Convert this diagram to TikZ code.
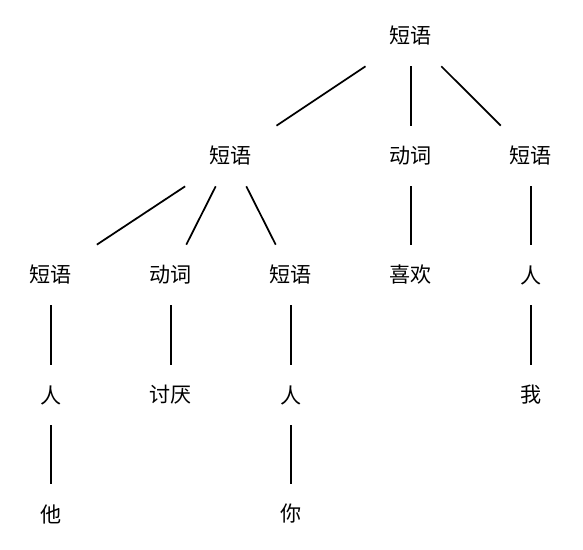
\documentclass[tikz,border=0pt]{standalone}
\usepackage{fontspec}
\newfontfamily\cjk{Noto Sans CJK SC}
\begin{document}
\begin{tikzpicture}[
    x=0.02cm, y=-0.02cm,
    word/.style={rectangle,minimum width=2cm,minimum height=1.2cm,inner sep=0pt,font=\cjk\fontsize{12}{14}\selectfont},
    branch/.style={line width=1pt}
]
    \useasboundingbox (0,0) rectangle (583,550);

    % Define nodes
    \node[word] (s) at (411,36) {短语};
    \node[word] (np) at (231,156) {短语};
    \node[word] (v) at (411,156) {动词};
    \node[word] (np2) at (531,156) {短语};
    \node[word] (np11) at (51,275) {短语};
    \node[word] (v1) at (171,275) {动词};
    \node[word] (np12) at (291,275) {短语};
    \node[word] (verb) at (411,275) {喜欢};
    \node[word] (n2) at (531,275) {人};
    \node[word] (n11) at (51,395) {人};
    \node[word] (verb1) at (171,395) {讨厌};
    \node[word] (n12) at (291,395) {人};
    \node[word] (w3) at (531,395) {我};
    \node[word] (w1) at (51,514) {他};
    \node[word] (w2) at (291,514) {你};

    % Draw branches
    \draw[branch] (s) -- (np);
    \draw[branch] (s) -- (v);
    \draw[branch] (s) -- (np2);
    \draw[branch] (np) -- (np11);
    \draw[branch] (np) -- (v1);
    \draw[branch] (np) -- (np12);
    \draw[branch] (v) -- (verb);
    \draw[branch] (np2) -- (n2);
    \draw[branch] (np11) -- (n11);
    \draw[branch] (v1) -- (verb1);
    \draw[branch] (np12) -- (n12);
    \draw[branch] (n2) -- (w3);
    \draw[branch] (n11) -- (w1);
    \draw[branch] (n12) -- (w2);
\end{tikzpicture}
\end{document}
